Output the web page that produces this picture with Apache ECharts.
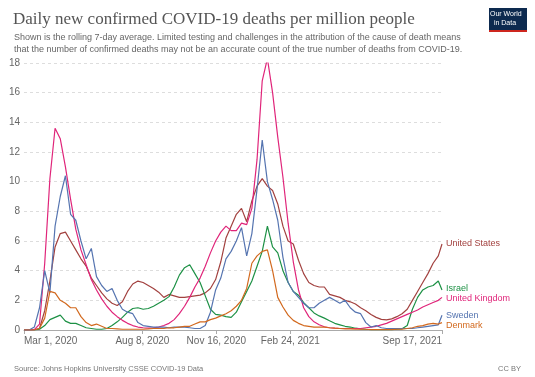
<!DOCTYPE html>
<html>
<head>
<meta charset="utf-8">
<script src="https://cdn.jsdelivr.net/npm/echarts@6/dist/echarts.min.js"></script>
<style>
    html, body { margin: 0; padding: 0; background: #fff; }
    #chart { width: 535px; height: 377px; }
</style>
</head>
<body>
<div id="chart"></div>
<script>
//天数（从 2020-03-01 起算）
var days = [0, 7, 14, 21, 28, 35, 42, 49, 56, 63,
    70, 77, 84, 91, 98, 105, 112, 119, 126, 133,
    140, 147, 154, 161, 168, 175, 182, 189, 196, 203,
    210, 217, 224, 231, 238, 245, 252, 259, 266, 273,
    280, 287, 294, 301, 308, 315, 322, 329, 336, 343,
    350, 357, 364, 371, 378, 385, 392, 399, 406, 413,
    420, 427, 434, 441, 448, 455, 462, 469, 476, 483,
    490, 497, 504, 511, 518, 525, 532, 539, 546, 553,
    560, 565];

var tickDays = [0, 160, 260, 360, 565];
var tickLabels = ['Mar 1, 2020', 'Aug 8, 2020', 'Nov 16, 2020', 'Feb 24, 2021', 'Sep 17, 2021'];

var unitedStates = [0, 0, 0.02, 0.1, 1.3, 3.3, 5.6, 6.5, 6.6, 6.0,
    5.4, 4.8, 4.3, 3.5, 3.0, 2.5, 2.1, 1.8, 1.65, 1.9,
    2.6, 3.1, 3.3, 3.2, 3.0, 2.8, 2.55, 2.2, 2.4, 2.3,
    2.2, 2.2, 2.25, 2.3, 2.35, 2.5, 2.8, 3.4, 4.6, 6.2,
    7.0, 7.8, 8.2, 7.3, 8.7, 9.7, 10.2, 9.7, 9.4, 8.5,
    7.0, 6.0, 5.8, 4.7, 3.8, 3.2, 3.0, 2.9, 2.9, 2.4,
    2.3, 2.2, 2.0, 1.9, 1.75, 1.5, 1.3, 1.05, 0.85, 0.72,
    0.68, 0.75, 0.9, 1.1, 1.4, 2.0, 2.6, 3.2, 3.8, 4.5,
    5.0, 5.8];

var israel = [0, 0, 0, 0.05, 0.3, 0.7, 0.85, 1.0, 0.6, 0.45,
    0.45, 0.3, 0.15, 0.1, 0.05, 0.05, 0.1, 0.3, 0.55, 0.85,
    1.2, 1.45, 1.5, 1.4, 1.45, 1.6, 1.8, 2.0, 2.25, 2.9,
    3.7, 4.2, 4.4, 3.8, 3.2, 2.3, 1.4, 1.05, 1.0, 0.9,
    0.85, 1.2, 1.9, 2.6, 3.3, 4.3, 5.3, 7.0, 5.6, 5.2,
    4.0, 3.2, 2.6, 2.35, 1.85, 1.5, 1.15, 0.95, 0.8, 0.62,
    0.45, 0.35, 0.25, 0.2, 0.12, 0.08, 0.05, 0.03, 0.02, 0.02,
    0.02, 0.03, 0.05, 0.08, 0.3, 1.4, 2.2, 2.7, 2.9, 3.0,
    3.3, 2.7];

var unitedKingdom = [0, 0, 0.02, 0.4, 4.5, 10.2, 13.6, 12.9, 11.0, 8.8,
    6.8, 5.4, 4.4, 3.4, 2.7, 2.1, 1.6, 1.2, 0.9, 0.65,
    0.45, 0.3, 0.2, 0.15, 0.12, 0.15, 0.2, 0.3, 0.45, 0.7,
    1.1, 1.6, 2.2, 2.9, 3.5, 4.3, 5.2, 6.0, 6.6, 7.0,
    6.7, 6.7, 7.2, 7.1, 8.2, 11.5, 16.8, 18.3, 16.0, 13.0,
    10.3, 7.2, 4.6, 2.7, 1.5, 0.9, 0.55, 0.35, 0.22, 0.15,
    0.12, 0.1, 0.1, 0.1, 0.1, 0.1, 0.15, 0.2, 0.25, 0.35,
    0.45, 0.6, 0.75, 0.9, 1.05, 1.2, 1.35, 1.55, 1.7, 1.85,
    2.0, 2.2];

var sweden = [0, 0, 0.2, 1.5, 4.0, 2.5, 7.0, 9.0, 10.4, 7.8,
    7.4, 6.0, 4.8, 5.5, 3.6, 3.0, 2.6, 2.8, 2.0, 1.4,
    1.2, 1.1, 0.5, 0.3, 0.25, 0.2, 0.2, 0.2, 0.15, 0.2,
    0.2, 0.2, 0.15, 0.1, 0.1, 0.3, 1.2, 2.7, 3.5, 4.8,
    5.3, 6.0, 6.9, 5.0, 6.5, 9.5, 12.8, 10.0, 8.8, 7.4,
    4.9, 3.2, 2.6, 2.2, 1.8, 1.5, 1.5, 1.8, 2.0, 2.2,
    2.0, 1.8, 2.0, 1.5, 1.2, 1.1, 0.5, 0.2, 0.3, 0.15,
    0.1, 0.1, 0.1, 0.1, 0.1, 0.1, 0.15, 0.2, 0.25, 0.3,
    0.35, 1.0];

var denmark = [0, 0, 0, 0.1, 0.8, 2.6, 2.5, 2.0, 1.8, 1.5,
    1.5, 0.9, 0.5, 0.3, 0.4, 0.25, 0.1, 0.1, 0.08, 0.05,
    0.05, 0.05, 0.05, 0.05, 0.07, 0.1, 0.1, 0.1, 0.15, 0.15,
    0.2, 0.25, 0.25, 0.4, 0.55, 0.55, 0.7, 0.8, 0.95, 1.1,
    1.3, 1.6, 2.0, 2.8, 4.5, 5.0, 5.3, 5.4, 4.0, 2.2,
    1.55, 1.0, 0.65, 0.45, 0.3, 0.25, 0.2, 0.2, 0.2, 0.15,
    0.12, 0.1, 0.08, 0.08, 0.06, 0.05, 0.05, 0.03, 0.03, 0.03,
    0.03, 0.03, 0.05, 0.05, 0.1, 0.15, 0.25, 0.3, 0.4, 0.45,
    0.4, 0.5];

var countries = ['United States', 'Israel', 'United Kingdom', 'Sweden', 'Denmark'];
var colors = ['#a2413f', '#1d9145', '#e0257a', '#5574b0', '#d2691e'];
var values = [unitedStates, israel, unitedKingdom, sweden, denmark];
//标签上下微调，避免重叠
var labelShift = [0, -1, 1, 0, 3];

//把天数和数值配成点
function pairs(arr) {
    var out = [];
    for (var i = 0; i < days.length; i++) {
        out.push([days[i], arr[i]]);
    }
    return out;
}

var series = [];
for (var k = 0; k < countries.length; k++) {
    series.push({
        name: countries[k],
        type: 'line',
        data: pairs(values[k]),
        showSymbol: false,
        animation: false,
        lineStyle: { width: 1.2, color: colors[k] },
        itemStyle: { color: colors[k] },
        endLabel: {
            show: true,
            formatter: '{a}',
            color: colors[k],
            fontFamily: 'Liberation Sans',
            fontSize: 9,
            distance: 4,
            offset: [0, labelShift[k]]
        }
    });
}

var option = {
    backgroundColor: '#fff',
    animation: false,
    title: [
        {
            text: 'Daily new confirmed COVID-19 deaths per million people',
            left: 8, top: 6,
            textStyle: { fontFamily: 'Liberation Serif', fontSize: 17, fontWeight: 'normal', color: '#555' }
        },
        {
            text: 'Shown is the rolling 7-day average. Limited testing and challenges in the attribution of the cause of death means\nthat the number of confirmed deaths may not be an accurate count of the true number of deaths from COVID-19.',
            left: 9, top: 27,
            textStyle: { fontFamily: 'Liberation Sans', fontSize: 9, fontWeight: 'normal', color: '#666', lineHeight: 11.5 }
        },
        {
            text: 'Source: Johns Hopkins University CSSE COVID-19 Data',
            left: 9, top: 360,
            textStyle: { fontFamily: 'Liberation Sans', fontSize: 7.5, fontWeight: 'normal', color: '#777' }
        },
        {
            text: 'CC BY',
            right: 9, top: 360,
            textStyle: { fontFamily: 'Liberation Sans', fontSize: 7.5, fontWeight: 'normal', color: '#777' }
        }
    ],
    graphic: [
        {
            type: 'rect', left: 489, top: 8,
            shape: { width: 38, height: 22 },
            style: { fill: '#0d2a4f' }
        },
        {
            type: 'rect', left: 489, top: 30,
            shape: { width: 38, height: 2 },
            style: { fill: '#ce261e' }
        },
        {
            type: 'text', left: 490, top: 10,
            style: { text: 'Our World\n  in Data', fill: '#fff', font: '7px Liberation Sans', lineHeight: 9 }
        }
    ],
    grid: { left: 24, right: 93, top: 63, bottom: 47 },
    xAxis: {
        type: 'value',
        min: 0,
        max: 565,
        axisLine: { show: true, lineStyle: { color: '#aaa', width: 1 } },
        axisTick: {
            show: true,
            customValues: tickDays,
            length: 4,
            lineStyle: { color: '#aaa' }
        },
        splitLine: { show: false },
        axisLabel: {
            customValues: tickDays,
            formatter: function (v) {
                var i = tickDays.indexOf(v);
                return i >= 0 ? tickLabels[i] : '';
            },
            alignMinLabel: 'left',
            alignMaxLabel: 'right',
            color: '#666',
            fontFamily: 'Liberation Sans',
            fontSize: 10,
            margin: 6
        }
    },
    yAxis: {
        type: 'value',
        min: 0,
        max: 18,
        interval: 2,
        axisLine: { show: false },
        axisTick: { show: false },
        splitLine: { show: true, lineStyle: { type: [3, 3], color: '#ddd' } },
        axisLabel: {
            color: '#666',
            fontFamily: 'Liberation Sans',
            fontSize: 10,
            margin: 4
        }
    },
    series: series
};

var myChart = echarts.init(document.getElementById('chart'), null, { renderer: 'canvas' });
myChart.setOption(option);
</script>
</body>
</html>
